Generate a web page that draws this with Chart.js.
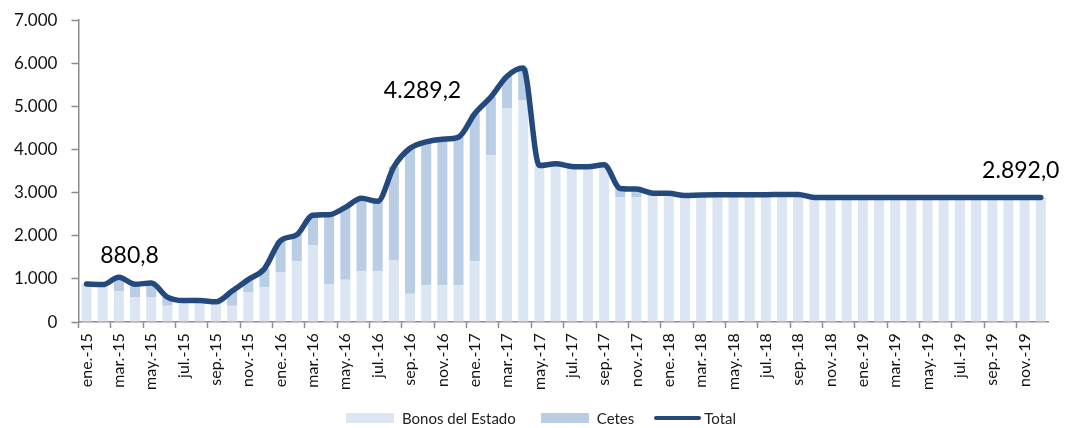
<!DOCTYPE html>
<html>
<head>
<meta charset="utf-8">
<script src="https://cdn.jsdelivr.net/npm/chart.js@4/dist/chart.umd.min.js"></script>
<style>
  html, body { margin: 0; padding: 0; background: #ffffff; overflow: hidden; }
  #wrap { width: 1065px; height: 428px; position: relative; overflow: hidden; font-family: Lato, "Open Sans", "Liberation Sans", sans-serif; }
  #c { position: absolute; left: 0; top: -4px; }
  #legend { position: absolute; left: 346px; top: 409px; height: 18px; display: flex; align-items: center; font-size: 15px; color: #222; white-space: nowrap; }
  #legend .item { display: flex; align-items: center; }
  #legend .sw { display: inline-block; width: 48px; height: 10px; margin-right: 8px; }
  #legend .ln { display: inline-block; width: 47px; height: 4px; border-radius: 2px; margin-right: 3px; }
</style>
</head>
<body>
<div id="wrap">
  <canvas id="c" width="1065" height="432"></canvas>
  <div id="legend"></div>
</div>
<script>
const categories = [
  'ene.-15','feb.-15','mar.-15','abr.-15','may.-15','jun.-15','jul.-15','ago.-15','sep.-15','oct.-15','nov.-15','dic.-15',
  'ene.-16','feb.-16','mar.-16','abr.-16','may.-16','jun.-16','jul.-16','ago.-16','sep.-16','oct.-16','nov.-16','dic.-16',
  'ene.-17','feb.-17','mar.-17','abr.-17','may.-17','jun.-17','jul.-17','ago.-17','sep.-17','oct.-17','nov.-17','dic.-17',
  'ene.-18','feb.-18','mar.-18','abr.-18','may.-18','jun.-18','jul.-18','ago.-18','sep.-18','oct.-18','nov.-18','dic.-18',
  'ene.-19','feb.-19','mar.-19','abr.-19','may.-19','jun.-19','jul.-19','ago.-19','sep.-19','oct.-19','nov.-19','dic.-19'
];

const bonosDelEstado = [
  880.8, 870, 715, 580, 580, 380, 500, 500, 470, 380, 685, 810,
  1160, 1410, 1780, 885, 980, 1180, 1180, 1430, 660, 855, 855, 855,
  1410, 3870, 4950, 5140, 3630, 3670, 3610, 3600, 3650, 2895, 2895, 2930,
  2985, 2935, 2950, 2955, 2955, 2955, 2955, 2960, 2960, 2892, 2892, 2892,
  2892, 2892, 2892, 2892, 2892, 2892, 2892, 2892, 2892, 2892, 2892, 2892
];

const cetes = [
  0, 0, 325, 300, 325, 200, 0, 0, 0, 340, 300, 430,
  730, 615, 700, 1605, 1680, 1690, 1620, 2170, 3370, 3325, 3385, 3434.2,
  3420, 1350, 750, 750, 0, 0, 0, 0, 0, 205, 190, 60,
  0, 0, 0, 0, 0, 0, 0, 0, 0, 0, 0, 0,
  0, 0, 0, 0, 0, 0, 0, 0, 0, 0, 0, 0
];

const total = [
  880.8, 870, 1040, 880, 905, 580, 500, 500, 470, 720, 985, 1240,
  1890, 2025, 2480, 2490, 2660, 2870, 2800, 3600, 4030, 4180, 4240, 4289.2,
  4830, 5220, 5700, 5890, 3630, 3670, 3610, 3600, 3650, 3100, 3085, 2990,
  2985, 2935, 2950, 2955, 2955, 2955, 2955, 2960, 2960, 2892, 2892, 2892,
  2892, 2892, 2892, 2892, 2892, 2892, 2892, 2892, 2892, 2892, 2892, 2892
];

const yTicks = [0, 1000, 2000, 3000, 4000, 5000, 6000, 7000];

// Which total points carry a value label
const labelledPoints = [0, 23, 59];

function fmtThousands(v, decimals) {
  const neg = v < 0;
  let s = Math.abs(v).toFixed(decimals);
  let [intPart, decPart] = s.split('.');
  intPart = intPart.replace(/\B(?=(\d{3})+(?!\d))/g, '.');
  return (neg ? '-' : '') + intPart + (decPart !== undefined ? ',' + decPart : '');
}

const FONT = 'Lato, "Open Sans", "Liberation Sans", sans-serif';
const LIGHT = '#dce6f2';
const MID = '#b9cde5';
const DARK = '#24497c';
const AXIS = '#8c8c8c';

const labelOffsets = { 0: [43, -29], 23: [-36, -47], 59: [-20, -27] };

const valueLabelPlugin = {
  id: 'valueLabels',
  afterDatasetsDraw(chart) {
    const meta = chart.getDatasetMeta(2);
    const ctx = chart.ctx;
    ctx.save();
    ctx.font = '23px ' + FONT;
    ctx.fillStyle = '#000000';
    ctx.textAlign = 'center';
    ctx.textBaseline = 'middle';
    labelledPoints.forEach(i => {
      const pt = meta.data[i];
      const off = labelOffsets[i];
      ctx.fillText(fmtThousands(total[i], 1), pt.x + off[0], pt.y + off[1]);
    });
    ctx.restore();
  }
};

const chart = new Chart(document.getElementById('c'), {
  type: 'bar',
  data: {
    labels: categories,
    datasets: [
      {
        label: 'Bonos del Estado',
        data: bonosDelEstado,
        backgroundColor: LIGHT,
        borderWidth: 0,
        stack: 'bars',
        order: 1,
        categoryPercentage: 1.0,
        barPercentage: 0.62
      },
      {
        label: 'Cetes',
        data: cetes,
        backgroundColor: MID,
        borderWidth: 0,
        stack: 'bars',
        order: 1,
        categoryPercentage: 1.0,
        barPercentage: 0.62
      },
      {
        type: 'line',
        label: 'Total',
        data: total,
        borderColor: DARK,
        backgroundColor: DARK,
        borderWidth: 5.5,
        borderCapStyle: 'round',
        borderJoinStyle: 'round',
        pointRadius: 0,
        pointHoverRadius: 0,
        tension: 0.4,
        cubicInterpolationMode: 'monotone',
        fill: false,
        stack: 'line',
        order: 0
      }
    ]
  },
  options: {
    responsive: false,
    animation: false,
    devicePixelRatio: 1,
    layout: { padding: { left: 0, right: 2, top: 0, bottom: 33 } },
    plugins: {
      tooltip: { enabled: false },
      legend: { display: false }
    },
    scales: {
      x: {
        stacked: true,
        offset: true,
        border: { display: true, color: AXIS, width: 1.5 },
        grid: {
          offset: true,
          drawOnChartArea: false,
          drawTicks: true,
          tickLength: 6,
          tickColor: (ctx) => (ctx.index % 2 === 0 ? AXIS : 'rgba(0,0,0,0)'),
          tickWidth: 1.5
        },
        ticks: {
          autoSkip: false,
          maxRotation: 90,
          minRotation: 90,
          padding: 5,
          font: { family: FONT, size: 16 },
          color: '#111111',
          callback: function (value, index) {
            return index % 2 === 0 ? categories[index] : '';
          }
        }
      },
      y: {
        stacked: true,
        min: 0,
        max: 7000,
        afterBuildTicks: (axis) => { axis.ticks = yTicks.map(v => ({ value: v })); },
        border: { display: true, color: AXIS, width: 1.5 },
        grid: {
          drawOnChartArea: false,
          drawTicks: true,
          tickLength: 7,
          tickColor: AXIS,
          tickWidth: 1.5
        },
        ticks: {
          padding: 14,
          font: { family: FONT, size: 17 },
          color: '#111111',
          callback: (v) => fmtThousands(v, 0)
        }
      }
    }
  },
  plugins: [valueLabelPlugin]
});

// Legend built from the chart's own datasets
const legendEl = document.getElementById('legend');
chart.data.datasets.forEach((ds, i) => {
  const item = document.createElement('span');
  item.className = 'item';
  if (i > 0) item.style.marginLeft = (ds.type === 'line' ? 20 : 25) + 'px';
  const sw = document.createElement('span');
  if (ds.type === 'line') {
    sw.className = 'ln';
    sw.style.background = ds.borderColor;
  } else {
    sw.className = 'sw';
    sw.style.background = ds.backgroundColor;
  }
  const tx = document.createElement('span');
  tx.textContent = ds.label;
  item.appendChild(sw);
  item.appendChild(tx);
  legendEl.appendChild(item);
});
</script>
</body>
</html>
